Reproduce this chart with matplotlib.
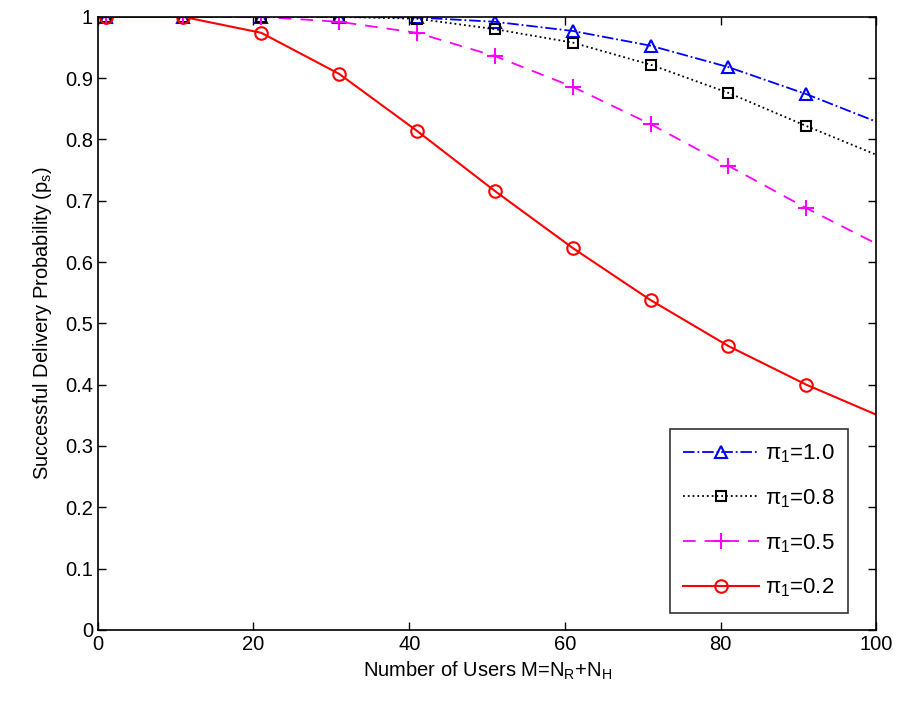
import matplotlib
matplotlib.use("Agg")
import matplotlib.pyplot as plt

plt.rcParams['font.family'] = ['Liberation Sans', 'DejaVu Sans']
plt.rcParams['mathtext.fontset'] = 'custom'
plt.rcParams['mathtext.rm'] = 'Liberation Sans'
plt.rcParams['mathtext.it'] = 'Liberation Sans'
plt.rcParams['mathtext.sf'] = 'Liberation Sans'

# Number of users (markers every 10 users, curve continues to 100)
users = [1, 11, 21, 31, 41, 51, 61, 71, 81, 91, 100]

# Successful delivery probability for each pi_1
ps_pi10 = [1.000, 1.000, 1.000, 1.000, 0.999, 0.992, 0.977, 0.953, 0.918, 0.874, 0.829]
ps_pi08 = [1.000, 1.000, 1.000, 1.000, 0.997, 0.980, 0.958, 0.922, 0.876, 0.822, 0.775]
ps_pi05 = [1.000, 1.000, 1.000, 0.992, 0.974, 0.936, 0.886, 0.825, 0.757, 0.688, 0.630]
ps_pi02 = [1.000, 1.000, 0.974, 0.907, 0.814, 0.716, 0.623, 0.538, 0.463, 0.400, 0.351]

labels = [r'$\pi_1$=1.0', r'$\pi_1$=0.8', r'$\pi_1$=0.5', r'$\pi_1$=0.2']

fig = plt.figure(figsize=(8.97, 7.03), dpi=100)
ax = fig.add_axes([0.109, 0.104, 0.868, 0.872])

mark_every = list(range(10))
ax.plot(users, ps_pi10, color='blue', linestyle='-.', marker='^', markersize=9,
        markerfacecolor='none', markeredgewidth=1.5, linewidth=1.3,
        markevery=mark_every, label=labels[0])
ax.plot(users, ps_pi08, color='black', linestyle=':', marker='s', markersize=7.5,
        markerfacecolor='none', markeredgewidth=1.5, linewidth=1.3,
        markevery=mark_every, label=labels[1])
ax.plot(users, ps_pi05, color='magenta', linestyle=(0, (7, 5)), marker='+', markersize=12,
        markeredgewidth=1.5, linewidth=1.3,
        markevery=mark_every, label=labels[2])
ax.plot(users, ps_pi02, color='red', linestyle='-', marker='o', markersize=9,
        markerfacecolor='none', markeredgewidth=1.5, linewidth=1.5,
        markevery=mark_every, label=labels[3])

ax.set_xlim(0, 100)
ax.set_ylim(0, 1)
ax.set_xticks([0, 20, 40, 60, 80, 100])
ax.set_yticks([0, 0.1, 0.2, 0.3, 0.4, 0.5, 0.6, 0.7, 0.8, 0.9, 1])
ax.set_yticklabels(['0', '0.1', '0.2', '0.3', '0.4', '0.5', '0.6', '0.7', '0.8', '0.9', '1'])
ax.tick_params(direction='in', top=True, right=True, length=6, width=1, labelsize=14.5)
for s in ax.spines.values():
    s.set_linewidth(1.2)

ax.set_xlabel(r'Number of Users M=N$_\mathregular{R}$+N$_\mathregular{H}$', fontsize=14.5, labelpad=4)
ax.set_ylabel(r'Successful Delivery Probability (p$_\mathregular{s}$)', fontsize=14.5, labelpad=8)

leg = ax.legend(loc='lower right', bbox_to_anchor=(0.964, 0.028), fontsize=16,
                frameon=True, fancybox=False, edgecolor='black', borderpad=0.6,
                labelspacing=1.0, handlelength=3.4, borderaxespad=0.0, handletextpad=0.3)
leg.get_frame().set_linewidth(1.2)

fig.savefig('out.png', dpi=100)
